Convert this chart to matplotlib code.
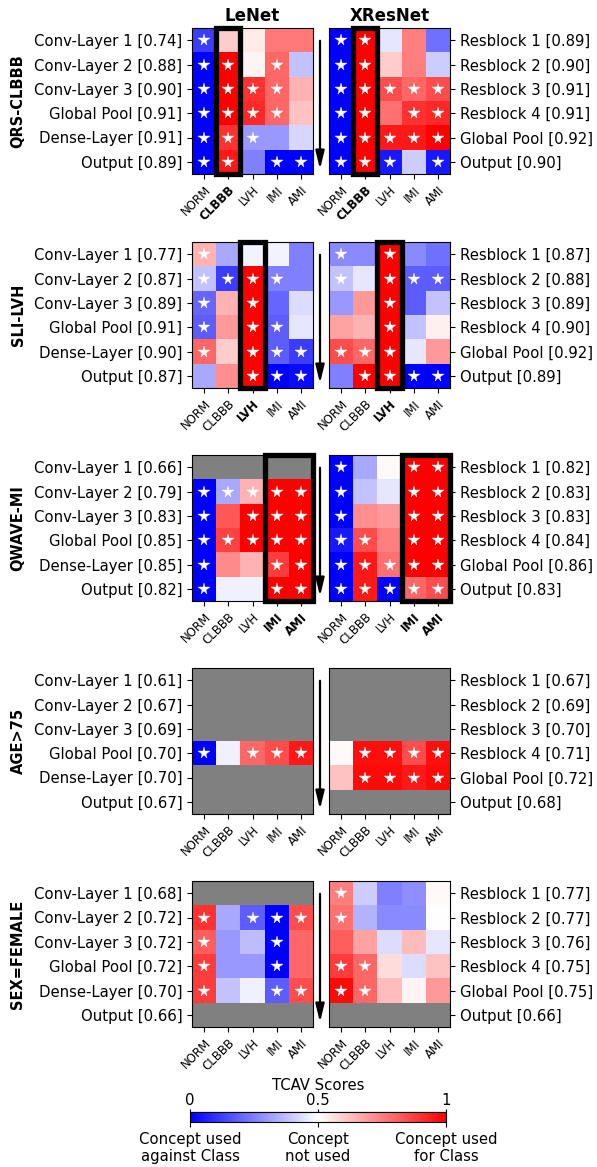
import numpy as np
import matplotlib
matplotlib.use("Agg")
import matplotlib.pyplot as plt
from matplotlib.patches import Rectangle

nan = np.nan
concepts = ["NORM", "CLBBB", "LVH", "IMI", "AMI"]
lenet_layers = ["Conv-Layer 1", "Conv-Layer 2", "Conv-Layer 3", "Global Pool", "Dense-Layer", "Output"]
xres_layers = ["Resblock 1", "Resblock 2", "Resblock 3", "Resblock 4", "Global Pool", "Output"]
row_names = ["QRS-CLBBB", "SLI-LVH", "QWAVE-MI", "AGE>75", "SEX=FEMALE"]
highlight_cols = [[1], [2], [3, 4], [], []]

# accuracies
qrs_lenet_acc = [0.74, 0.88, 0.90, 0.91, 0.91, 0.89]
qrs_xres_acc = [0.89, 0.90, 0.91, 0.91, 0.92, 0.90]
sli_lenet_acc = [0.77, 0.87, 0.89, 0.91, 0.90, 0.87]
sli_xres_acc = [0.87, 0.88, 0.89, 0.90, 0.92, 0.89]
qwave_lenet_acc = [0.66, 0.79, 0.83, 0.85, 0.85, 0.82]
qwave_xres_acc = [0.82, 0.83, 0.83, 0.84, 0.86, 0.83]
age_lenet_acc = [0.61, 0.67, 0.69, 0.70, 0.70, 0.67]
age_xres_acc = [0.67, 0.69, 0.70, 0.71, 0.72, 0.68]
sex_lenet_acc = [0.68, 0.72, 0.72, 0.72, 0.70, 0.66]
sex_xres_acc = [0.77, 0.77, 0.76, 0.75, 0.75, 0.66]

# TCAV scores (rows = layers, cols = concepts)
qrs_lenet = [[0.12, 0.60, 0.54, 0.76, 0.76],
             [0.00, 1.00, 0.52, 0.80, 0.38],
             [0.00, 1.00, 0.90, 0.80, 0.65],
             [0.00, 1.00, 0.92, 0.80, 0.62],
             [0.00, 0.90, 0.30, 0.30, 0.42],
             [0.00, 0.95, 0.25, 0.00, 0.00]]
qrs_lenet_sig = [[1, 0, 0, 0, 0], [1, 1, 0, 1, 0], [1, 1, 1, 1, 0],
                 [1, 1, 1, 1, 0], [1, 1, 1, 0, 0], [1, 1, 0, 1, 1]]
qrs_xres = [[0.00, 1.00, 0.45, 0.75, 0.22],
            [0.00, 1.00, 0.60, 0.75, 0.40],
            [0.00, 1.00, 0.85, 0.80, 0.85],
            [0.00, 1.00, 0.78, 0.90, 0.92],
            [0.00, 1.00, 0.95, 0.95, 1.00],
            [0.00, 1.00, 0.05, 0.40, 0.05]]
qrs_xres_sig = [[1, 1, 0, 0, 0], [1, 1, 0, 0, 0], [1, 1, 1, 1, 1],
                [1, 1, 0, 1, 1], [1, 1, 1, 1, 1], [1, 1, 1, 0, 1]]

sli_lenet = [[0.65, 0.33, 0.48, 0.48, 0.25],
             [0.38, 0.12, 1.00, 0.25, 0.25],
             [0.20, 0.65, 1.00, 0.20, 0.43],
             [0.18, 0.70, 1.00, 0.18, 0.45],
             [0.80, 0.60, 1.00, 0.18, 0.12],
             [0.33, 0.72, 1.00, 0.00, 0.02]]
sli_lenet_sig = [[1, 0, 0, 0, 0], [1, 1, 1, 1, 0], [1, 0, 1, 0, 0],
                 [1, 0, 1, 1, 0], [1, 0, 1, 1, 1], [0, 0, 1, 1, 1]]
sli_xres = [[0.27, 0.27, 1.00, 0.27, 0.22],
            [0.38, 0.45, 1.00, 0.18, 0.18],
            [0.30, 0.70, 1.00, 0.18, 0.38],
            [0.68, 0.65, 1.00, 0.38, 0.53],
            [0.85, 0.80, 1.00, 0.45, 0.70],
            [0.25, 1.00, 1.00, 0.00, 0.00]]
sli_xres_sig = [[1, 0, 1, 0, 0], [1, 0, 1, 1, 1], [0, 0, 1, 0, 0],
                [0, 0, 1, 0, 0], [1, 1, 1, 0, 0], [0, 1, 1, 1, 1]]

qwave_lenet = [[nan, nan, nan, nan, nan],
               [0.00, 0.33, 0.65, 1.00, 1.00],
               [0.00, 0.83, 1.00, 1.00, 1.00],
               [0.00, 0.87, 1.00, 1.00, 1.00],
               [0.00, 0.73, 0.65, 0.88, 1.00],
               [0.00, 0.47, 0.47, 1.00, 1.00]]
qwave_lenet_sig = [[0, 0, 0, 0, 0], [1, 1, 1, 1, 1], [1, 0, 1, 1, 1],
                   [1, 1, 1, 1, 1], [1, 0, 0, 1, 1], [1, 0, 0, 1, 1]]
qwave_xres = [[0.00, 0.33, 0.51, 1.00, 1.00],
              [0.00, 0.38, 0.45, 1.00, 1.00],
              [0.00, 0.72, 0.70, 1.00, 1.00],
              [0.05, 0.85, 0.75, 1.00, 1.00],
              [0.00, 0.95, 0.78, 1.00, 1.00],
              [0.00, 0.95, 0.00, 0.80, 0.85]]
qwave_xres_sig = [[1, 0, 0, 1, 1], [1, 0, 0, 1, 1], [1, 0, 0, 1, 1],
                  [1, 1, 0, 1, 1], [1, 1, 1, 1, 1], [1, 1, 1, 1, 1]]

age_lenet = [[nan] * 5, [nan] * 5, [nan] * 5,
             [0.00, 0.47, 0.80, 0.85, 0.95],
             [nan] * 5, [nan] * 5]
age_lenet_sig = [[0] * 5, [0] * 5, [0] * 5, [1, 0, 1, 1, 1], [0] * 5, [0] * 5]
age_xres = [[nan] * 5, [nan] * 5, [nan] * 5,
            [0.51, 0.97, 0.97, 0.85, 0.97],
            [0.62, 0.98, 0.98, 0.95, 0.98],
            [nan] * 5]
age_xres_sig = [[0] * 5, [0] * 5, [0] * 5, [0, 1, 1, 1, 1], [0, 1, 1, 1, 1], [0] * 5]

sex_lenet = [[nan] * 5,
             [0.90, 0.33, 0.18, 0.00, 0.85],
             [0.82, 0.30, 0.37, 0.00, 0.80],
             [0.88, 0.30, 0.30, 0.00, 0.80],
             [0.88, 0.38, 0.47, 0.18, 0.85],
             [nan] * 5]
sex_lenet_sig = [[0] * 5, [1, 0, 1, 1, 1], [1, 0, 0, 1, 0],
                 [1, 0, 0, 1, 0], [1, 0, 0, 1, 1], [0] * 5]
sex_xres = [[0.75, 0.40, 0.25, 0.28, 0.51],
            [0.78, 0.35, 0.27, 0.27, 0.50],
            [0.82, 0.68, 0.43, 0.63, 0.45],
            [0.88, 0.80, 0.57, 0.43, 0.62],
            [0.98, 0.80, 0.63, 0.52, 0.70],
            [nan] * 5]
sex_xres_sig = [[1, 0, 0, 0, 0], [1, 0, 0, 0, 0], [0] * 5,
                [1, 1, 0, 0, 0], [1, 1, 0, 0, 0], [0] * 5]

panels = [
    (qrs_lenet, qrs_lenet_sig, qrs_lenet_acc, qrs_xres, qrs_xres_sig, qrs_xres_acc),
    (sli_lenet, sli_lenet_sig, sli_lenet_acc, sli_xres, sli_xres_sig, sli_xres_acc),
    (qwave_lenet, qwave_lenet_sig, qwave_lenet_acc, qwave_xres, qwave_xres_sig, qwave_xres_acc),
    (age_lenet, age_lenet_sig, age_lenet_acc, age_xres, age_xres_sig, age_xres_acc),
    (sex_lenet, sex_lenet_sig, sex_lenet_acc, sex_xres, sex_xres_sig, sex_xres_acc),
]

W, H = 597, 1167
fig = plt.figure(figsize=(W / 100, H / 100), dpi=100)
cmap = plt.get_cmap("bwr").copy()
cmap.set_bad("#808080")


def px_axes(x0, top, w, h):
    return fig.add_axes([x0 / W, 1 - (top + h) / H, w / W, h / H])


tops = [28, 242, 455, 668, 881]
ph, pw = 146, 121
im = None
FS = 10.7


def draw(ax, data, sig, labels, acc, hl, right):
    global im
    arr = np.ma.masked_invalid(np.array(data, dtype=float))
    im = ax.imshow(arr, cmap=cmap, vmin=0, vmax=1, aspect="auto", interpolation="nearest")
    ax.set_facecolor("#808080")
    s = np.array(sig)
    for r in range(s.shape[0]):
        for c in range(s.shape[1]):
            if s[r, c]:
                ax.plot(c, r, marker="*", color="white", ms=8.5, mec="white", mew=0.3)
    ax.set_xlim(-0.5, 4.5)
    ax.set_ylim(5.5, -0.5)
    ax.set_xticks(range(5))
    ax.set_xticklabels(concepts, rotation=45, ha="right", rotation_mode="anchor", fontsize=8.5)
    for i, t in enumerate(ax.get_xticklabels()):
        if i in hl:
            t.set_fontweight("bold")
    ax.set_yticks(range(6))
    ax.set_yticklabels([f"{l} [{a:.2f}]" for l, a in zip(labels, acc)], fontsize=FS)
    if right:
        ax.yaxis.tick_right()
    if hl:
        c0 = min(hl)
        ax.add_patch(Rectangle((c0 - 0.5, -0.5), len(hl), 6, fill=False, ec="black",
                               lw=3.8, clip_on=False, zorder=5))


for i, (ld, ls, la, xd, xs, xa) in enumerate(panels):
    top = tops[i]
    ax1 = px_axes(192, top, pw, ph)
    ax2 = px_axes(329, top, pw, ph)
    draw(ax1, ld, ls, lenet_layers, la, highlight_cols[i], False)
    draw(ax2, xd, xs, xres_layers, xa, highlight_cols[i], True)
    fig.text(18 / W, 1 - (top + ph / 2) / H, row_names[i], rotation=90, ha="center",
             va="center", fontsize=10.5, fontweight="bold")
    fig.patches.append(matplotlib.patches.FancyArrowPatch(
        (320 / W, 1 - (top + 10) / H), (320 / W, 1 - (top + 144) / H),
        transform=fig.transFigure, arrowstyle="-|>,head_length=0.9,head_width=0.22",
        mutation_scale=12, lw=1.6, color="black"))
    if i == 0:
        ax1.set_title("LeNet", fontsize=12, fontweight="bold", pad=5)
        ax2.set_title("XResNet", fontsize=12, fontweight="bold", pad=5)

cax = px_axes(190, 1112, 256, 10)
cb = fig.colorbar(im, cax=cax, orientation="horizontal")
cb.set_ticks([0, 0.5, 1])
cb.set_ticklabels(["Concept used\nagainst Class", "Concept\nnot used", "Concept used\nfor Class"])
cax.tick_params(labelsize=FS)
sec = cax.secondary_xaxis("top")
sec.set_ticks([0, 0.5, 1])
sec.set_xticklabels(["0", "0.5", "1"], fontsize=FS)
sec.tick_params(length=2, pad=1)
sec.set_xlabel("TCAV Scores", fontsize=FS, labelpad=2)

fig.savefig("out.png", dpi=100)
